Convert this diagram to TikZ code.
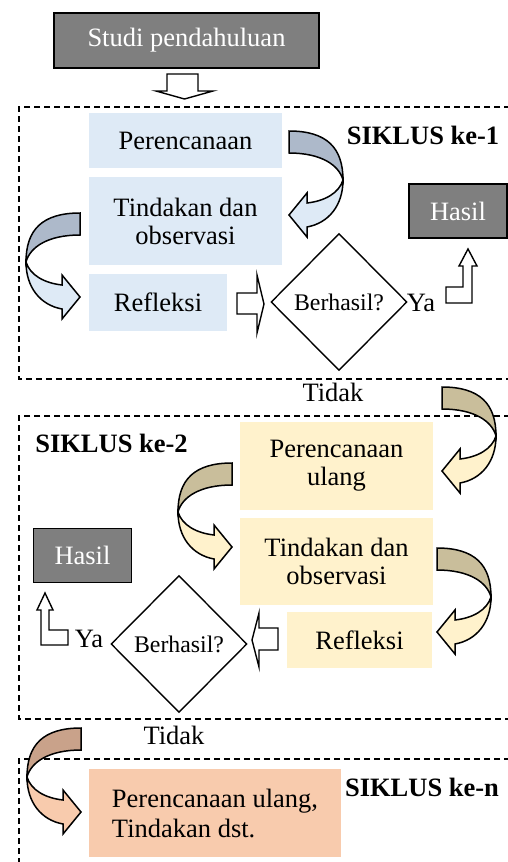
\documentclass[tikz,border=0pt]{standalone}
\usepackage{fontspec}
\setmainfont{Liberation Serif}
\usetikzlibrary{shapes.geometric}

\definecolor{biru}{HTML}{DEEAF6}
\definecolor{birutua}{HTML}{ADB9CA}
\definecolor{kuning}{HTML}{FFF2CC}
\definecolor{kuningtua}{HTML}{C9BE9B}
\definecolor{jingga}{HTML}{F8CBAD}
\definecolor{jinggatua}{HTML}{C9A28A}
\definecolor{abu}{HTML}{7F7F7F}

\newcommand{\teks}{\fontsize{26.5}{28}\selectfont}
\newcommand{\kecil}{\fontsize{23.8}{25}\selectfont}

% curved block arrow: #1 tail corner, #2 xscale (1 = bulge right, -1 = bulge left), #3 back, #4 front
\newcommand{\lengkung}[4]{%
\begin{scope}[shift={#1},xscale=#2]
\draw[fill=#3,line width=1.5] (0,0) .. controls (38,0) and (54,17) .. (54,49)
   .. controls (50,34) and (32,22) .. (0,22) -- cycle;
\draw[fill=#4,line width=1.5] (54,49) .. controls (54,74) and (40,92) .. (18,96)
   -- (18,106) -- (0,84) -- (18,62) -- (18,72)
   .. controls (36,70) and (50,62) .. (54,49) -- cycle;
\end{scope}}

\begin{document}
\begin{tikzpicture}[x=1pt,y=-1pt,
  kotak/.style={minimum width=193,inner sep=0,align=center,font=\teks},
  hasil/.style={draw,line width=1.4,fill=abu,text=white,minimum width=98,minimum height=54,inner sep=0,font=\teks},
  cek/.style={diamond,draw,line width=1.4,fill=white,minimum width=136,minimum height=137,inner sep=0,font=\kecil},
  judul/.style={font=\teks\bfseries,inner sep=0},
  siklus/.style={dash pattern=on 6pt off 4pt,line width=1.5},
  blok/.style={draw,line width=1.4,fill=white}]
\useasboundingbox (0,0) rectangle (508,862);

% the three cycles
\draw[siklus] (530,107) -- (19,107) -- (19,379) -- (530,379);
\draw[siklus] (530,416) -- (19,416) -- (19,719) -- (530,719);
\draw[siklus] (530,759) -- (19,759) -- (19,880);

\node[draw,line width=1.4,fill=abu,text=white,minimum width=265,minimum height=55,inner sep=0,font=\teks] (studi) at (186.5,40.5) {Studi pendahuluan};
\draw[blok] (167,74) -- (198,74) -- (198,91) -- (213,91) -- (184.5,99) -- (156,91) -- (167,91) -- cycle;

% siklus 1
\node[judul] (s1) at (423,135) {SIKLUS ke-1};
\node[kotak,fill=biru,minimum height=55] (renc1) at (185.5,140.5) {Perencanaan};
\node[kotak,fill=biru,minimum height=88] (tind1) at (185.5,221) {Tindakan dan\\observasi};
\node[kotak,fill=biru,minimum width=138,minimum height=57] (refl1) at (158,302.5) {Refleksi};
\node[cek] (cek1) at (339,302) {Berhasil?};
\node[font=\teks,inner sep=0] (ya1) at (421,303) {Ya};
\node[hasil] (has1) at (458,211) {Hasil};
\node[font=\teks,inner sep=0] (tdk1) at (333,392) {Tidak};
\draw[blok] (237,293) -- (257,293) -- (257,275) -- (264,304) -- (257,333) -- (257,314) -- (237,314) -- cycle;
\draw[blok] (446,287) -- (463,287) -- (463,266) -- (459,266) -- (468,249) -- (477,266) -- (472,266) -- (472,303) -- (446,303) -- cycle;
\lengkung{(289,131)}{1}{birutua}{biru}
\lengkung{(80,213)}{-1}{birutua}{biru}

% siklus 2
\node[judul] (s2) at (111.5,443) {SIKLUS ke-2};
\node[kotak,fill=kuning,minimum height=88] (renc2) at (336.5,466) {Perencanaan\\ulang};
\node[kotak,fill=kuning,minimum height=87] (tind2) at (336.5,561.5) {Tindakan dan\\observasi};
\node[kotak,fill=kuning,minimum width=145,minimum height=56] (refl2) at (359.5,640) {Refleksi};
\node[cek] (cek2) at (179,644) {Berhasil?};
\node[font=\teks,inner sep=0] (ya2) at (89,639) {Ya};
\node[hasil] (has2) at (82.5,555.5) {Hasil};
\node[font=\teks,inner sep=0] (tdk2) at (174,735) {Tidak};
\draw[blok] (278,628) -- (259,628) -- (259,613) -- (252,640) -- (259,667) -- (259,650) -- (278,650) -- cycle;
\draw[blok] (41,645) -- (41,610) -- (37,610) -- (45,593) -- (53,610) -- (49,610) -- (49,630) -- (68,630) -- (68,645) -- cycle;
\lengkung{(442,387)}{1}{kuningtua}{kuning}
\lengkung{(232,463)}{-1}{kuningtua}{kuning}
\lengkung{(437,548)}{1}{kuningtua}{kuning}

% siklus n
\node[judul] (sn) at (422,787) {SIKLUS ke-n};
\node[fill=jingga,minimum width=252,minimum height=88,inner sep=0,align=left,font=\fontsize{26.5}{30}\selectfont] (rencn) at (215,813) {Perencanaan ulang,\\Tindakan dst.};
\lengkung{(81,728)}{-1}{jinggatua}{jingga}
\end{tikzpicture}
\end{document}
